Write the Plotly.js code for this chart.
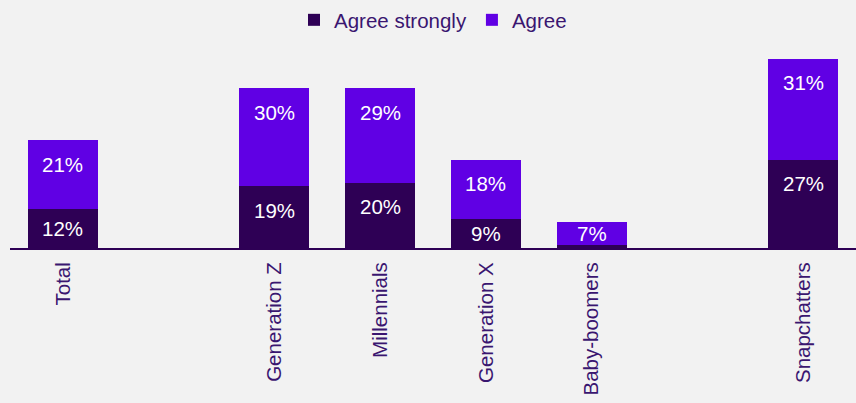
<!DOCTYPE html>
<html>
<head>
<meta charset="utf-8">
<script src="https://cdn.plot.ly/plotly-3.0.1.min.js"></script>
<style>html,body{margin:0;padding:0;background:#f2f2f2;}#chart{width:856px;height:403px;}</style>
</head>
<body>
<div id="chart"></div>
<script>
// Categories (blank entries are spacer slots in the original chart)
const categories = ["Total", " ", "Generation Z", "Millennials", "Generation X", "Baby-boomers", "  ", "Snapchatters"];
const agreeStrongly = [12, null, 19, 20, 9, 1, null, 27];
const agree = [21, null, 30, 29, 18, 7, null, 31];
const seriesNames = ["Agree strongly", "Agree"];

const darkColor = "#2e0055";
const brightColor = "#6000e4";
const textColor = "#3a1670";
const font = "'Liberation Sans', Arial, sans-serif";

const traces = [
  {type: "bar", name: seriesNames[0], x: categories, y: agreeStrongly,
   marker: {color: darkColor}, hoverinfo: "skip"},
  {type: "bar", name: seriesNames[1], x: categories, y: agree,
   marker: {color: brightColor}, hoverinfo: "skip"}
];

// Labels: placed near the top of each segment (inside end), centred when the segment is small
const annotations = [];
const offset = 7.4; // in % units (label inset from the segment top)
categories.forEach((c, i) => {
  const segs = [[0, agreeStrongly[i]], [agreeStrongly[i], agree[i]]];
  segs.forEach(([base, v]) => {
    if (v == null || base == null || v < 5) return;
    const top = base + v;
    const y = Math.max(top - offset, base + v / 2);
    annotations.push({x: c, y: y, xref: "x", yref: "y", text: v + "%", showarrow: false,
      font: {family: font, size: 20.5, color: "#ffffff"}});
  });
});

const layout = {
  width: 856, height: 403,
  paper_bgcolor: "#f2f2f2", plot_bgcolor: "#f2f2f2",
  barmode: "stack", bargap: 0.34,
  margin: {l: 10, r: 0, t: 52, b: 155},
  font: {family: font, color: textColor},
  showlegend: true,
  legend: {orientation: "h", x: 0.5, xanchor: "center", y: 1, yref: "container", yanchor: "top",
    font: {family: font, size: 20.5, color: textColor}, bgcolor: "rgba(0,0,0,0)", traceorder: "normal"},
  xaxis: {type: "category", categoryorder: "array", categoryarray: categories,
    tickangle: -90, tickfont: {family: font, size: 20.5, color: textColor}, ticklabelstandoff: 4,
    showline: true, linecolor: darkColor, linewidth: 2, ticks: "", showgrid: false, zeroline: false},
  yaxis: {range: [0, 60], visible: false, showgrid: false, zeroline: false},
  annotations: annotations
};

Plotly.newPlot("chart", traces, layout, {displayModeBar: false, staticPlot: true});
</script>
</body>
</html>
